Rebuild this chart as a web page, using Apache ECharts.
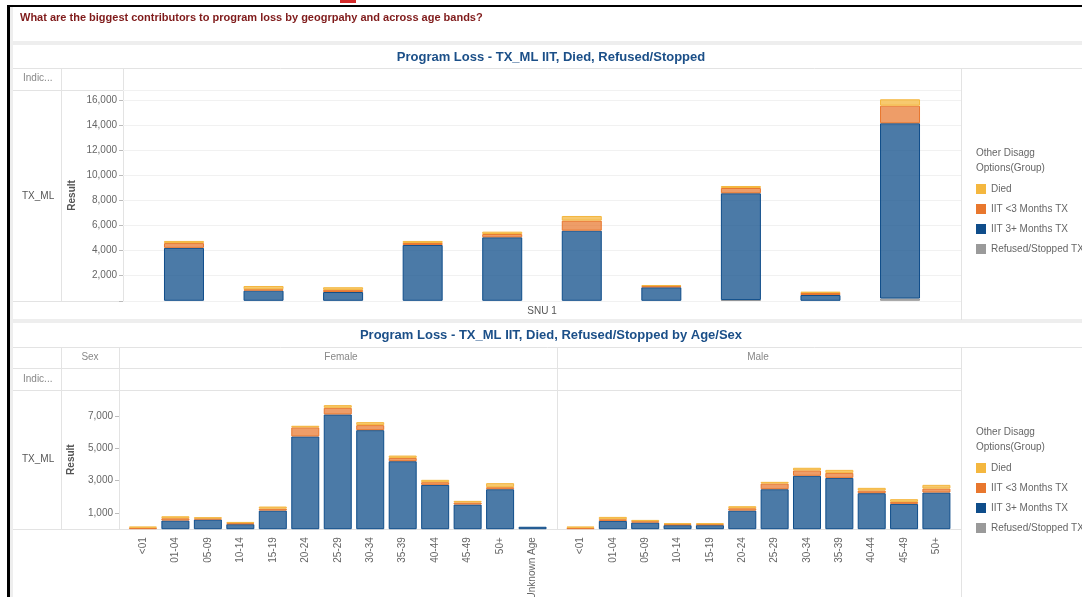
<!DOCTYPE html>
<html>
<head>
<meta charset="utf-8">
<script src="https://cdn.jsdelivr.net/npm/echarts@6/dist/echarts.min.js"></script>
<style>
  html, body { margin: 0; padding: 0; background: #fff; }
  #chart { width: 1082px; height: 597px; }
</style>
</head>
<body>
<div id="chart"></div>
<script>
// stack order, bottom to top
const seriesNames = ['Refused/Stopped TX', 'IIT 3+ Months TX', 'IIT <3 Months TX', 'Died']
const legendOrder = ['Died', 'IIT <3 Months TX', 'IIT 3+ Months TX', 'Refused/Stopped TX']

// top chart: one bar per SNU (labels hidden in the source)
const snuBars = ['1', '2', '3', '4', '5', '6', '7', '8', '9', '10']
const snuRefused = [0, 0, 0, 0, 0, 0, 0, 60, 0, 180]
const snuIit3Plus = [4220, 810, 700, 4450, 5060, 5590, 1075, 8510, 460, 13970]
const snuIitUnder3 = [380, 110, 170, 160, 260, 800, 95, 420, 160, 1400]
const snuDied = [170, 260, 210, 160, 190, 370, 90, 160, 110, 510]

// bottom chart: age bands by sex
const femaleAges = ['<01', '01-04', '05-09', '10-14', '15-19', '20-24', '25-29', '30-34', '35-39', '40-44', '45-49', '50+', 'Unknown Age']
const femaleRefused = [0, 0, 0, 0, 0, 0, 0, 0, 0, 0, 0, 0, 0]
const femaleIit3Plus = [0, 535, 600, 310, 1150, 5730, 7090, 6120, 4200, 2740, 1525, 2470, 150]
const femaleIitUnder3 = [90, 140, 60, 60, 120, 560, 410, 310, 205, 165, 125, 125, 0]
const femaleDied = [75, 125, 80, 80, 130, 100, 165, 185, 145, 145, 100, 250, 0]

const maleAges = ['<01', '01-04', '05-09', '10-14', '15-19', '20-24', '25-29', '30-34', '35-39', '40-44', '45-49', '50+']
const maleRefused = [0, 0, 0, 0, 0, 0, 0, 0, 0, 0, 0, 0]
const maleIit3Plus = [0, 515, 410, 250, 250, 1150, 2470, 3300, 3170, 2225, 1565, 2265]
const maleIitUnder3 = [90, 100, 80, 60, 60, 145, 350, 330, 310, 165, 125, 245]
const maleDied = [75, 145, 85, 60, 60, 125, 105, 165, 185, 165, 165, 230]

const ageTicks = [1000, 3000, 5000, 7000]

// colours
const solid = ['#9a9a9a', '#0f4d8a', '#e8772e', '#f4b73f']
const fill = ['rgba(154,154,154,0.75)', 'rgba(15,77,138,0.75)', 'rgba(232,119,46,0.72)', 'rgba(244,183,63,0.75)']
const font = '"Liberation Sans", Arial, sans-serif'
const frameColor = '#e3e3e3'

const chart = echarts.init(document.getElementById('chart'))

const makeSeries = (stack, axisIndex, cols, barWidth) =>
  cols.map((vals, i) => ({
    name: seriesNames[i],
    type: 'bar',
    stack,
    xAxisIndex: axisIndex,
    yAxisIndex: axisIndex,
    barWidth,
    data: vals.map(v => v || '-'),
    itemStyle: { color: fill[i], borderColor: solid[i], borderWidth: 1 }
  }))

const legendData = legendOrder.map(n => ({
  name: n,
  itemStyle: { color: solid[seriesNames.indexOf(n)], borderWidth: 0 }
}))

const makeLegend = top => ({
  data: legendData,
  orient: 'vertical',
  left: 976,
  top,
  padding: 0,
  itemWidth: 10,
  itemHeight: 10,
  itemGap: 10,
  icon: 'rect',
  selectedMode: false,
  textStyle: { fontFamily: font, fontSize: 10, color: '#666', lineHeight: 10 }
})

// table frame of the dashboard
const hLine = (x1, x2, y) => ({ type: 'line', silent: true, shape: { x1, y1: y + 0.5, x2, y2: y + 0.5 }, style: { stroke: frameColor, lineWidth: 1 } })
const vLine = (x, y1, y2) => ({ type: 'line', silent: true, shape: { x1: x + 0.5, y1, x2: x + 0.5, y2 }, style: { stroke: frameColor, lineWidth: 1 } })
const txt = (text, x, y, opts = {}) => ({
  type: 'text', silent: true, x, y,
  style: Object.assign({
    text, fill: '#888', font: `10px ${font}`,
    align: 'left', textAlign: 'left', verticalAlign: 'middle', textVerticalAlign: 'middle'
  }, opts)
})

const graphics = [
  { type: 'rect', silent: true, shape: { x: 10, y: 7, width: 3, height: 590 }, style: { fill: '#eeeeee' } },
  { type: 'rect', silent: true, shape: { x: 7, y: 5, width: 3, height: 592 }, style: { fill: '#000' } },
  { type: 'rect', silent: true, shape: { x: 7, y: 5, width: 1075, height: 2 }, style: { fill: '#000' } },
  { type: 'rect', silent: true, shape: { x: 340, y: 0, width: 16, height: 3 }, style: { fill: '#d42a2a' } },
  { type: 'rect', silent: true, shape: { x: 13, y: 41, width: 1069, height: 4 }, style: { fill: '#eeeeee' } },
  { type: 'rect', silent: true, shape: { x: 13, y: 319, width: 1069, height: 4 }, style: { fill: '#eeeeee' } },
  // top panel
  hLine(13, 1082, 68), hLine(13, 961, 90), hLine(13, 961, 301),
  vLine(61, 68, 301), vLine(123, 68, 301), vLine(961, 68, 320),
  // bottom panel
  hLine(13, 1082, 347), hLine(13, 961, 368), hLine(13, 961, 390), hLine(13, 961, 529),
  vLine(61, 347, 529), vLine(119, 347, 529), vLine(557, 347, 529), vLine(961, 347, 597),
  txt('What are the biggest contributors to program loss by geogrpahy and across age bands?', 20, 18,
    { fill: '#7f1a1a', font: `bold 11px ${font}` }),
  txt('Program Loss - TX_ML IIT, Died, Refused/Stopped', 551, 57,
    { fill: '#1b4f88', font: `bold 13px ${font}`, align: 'center', textAlign: 'center' }),
  txt('Program Loss - TX_ML IIT, Died, Refused/Stopped by Age/Sex', 551, 335,
    { fill: '#1b4f88', font: `bold 13px ${font}`, align: 'center', textAlign: 'center' }),
  txt('Indic...', 23, 78),
  txt('TX_ML', 22, 196, { fill: '#555' }),
  txt('Sex', 90, 357, { align: 'center', textAlign: 'center' }),
  txt('Female', 341, 357, { align: 'center', textAlign: 'center' }),
  txt('Male', 758, 357, { align: 'center', textAlign: 'center' }),
  txt('Indic...', 23, 379),
  txt('TX_ML', 22, 459, { fill: '#555' }),
  txt('Other Disagg', 976, 153, { fill: '#666' }),
  txt('Options(Group)', 976, 168, { fill: '#666' }),
  txt('Other Disagg', 976, 432, { fill: '#666' }),
  txt('Options(Group)', 976, 447, { fill: '#666' })
]

const hiddenAxis = { show: false }
const labelStyle = { fontFamily: font, fontSize: 10, color: '#666' }
const nameStyle = { fontFamily: font, fontSize: 10, fontWeight: 'bold', color: '#555' }

const option = {
  animation: false,
  textStyle: { fontFamily: font },
  graphic: { elements: graphics },
  legend: [makeLegend(184), makeLegend(463)],
  grid: [
    { left: 144.2, right: 142.2, top: 90, bottom: 296.2, outerBoundsMode: 'none' },   // SNU bars
    { left: 126.7, right: 533.2, top: 390, bottom: 67.8, outerBoundsMode: 'none' },   // female
    { left: 564.3, right: 129.4, top: 390, bottom: 67.8, outerBoundsMode: 'none' },   // male
    { left: 123, right: 121, top: 90, bottom: 296.2, outerBoundsMode: 'none' }        // SNU value axis + gridlines
  ],
  xAxis: [
    {
      gridIndex: 0, type: 'category', data: snuBars,
      axisLine: { show: false }, axisTick: { show: false }, axisLabel: { show: false },
      name: 'SNU 1', nameLocation: 'middle', nameGap: 5,
      nameTextStyle: { fontFamily: font, fontSize: 10, color: '#555', verticalAlign: 'top' }
    },
    {
      gridIndex: 1, type: 'category', data: femaleAges,
      axisLine: { show: false }, axisTick: { show: false },
      axisLabel: Object.assign({ rotate: 90, margin: 8, interval: 0 }, labelStyle)
    },
    {
      gridIndex: 2, type: 'category', data: maleAges,
      axisLine: { show: false }, axisTick: { show: false },
      axisLabel: Object.assign({ rotate: 90, margin: 8, interval: 0 }, labelStyle)
    },
    Object.assign({ gridIndex: 3, type: 'value' }, hiddenAxis)
  ],
  yAxis: [
    Object.assign({ gridIndex: 0, type: 'value', min: 0, max: 16800 }, hiddenAxis),
    {
      gridIndex: 1, type: 'value', min: 0, max: 8600, offset: 7.7,
      axisLine: { show: false },
      axisTick: { show: true, length: 4, customValues: ageTicks, lineStyle: { color: '#bbb' } },
      axisLabel: Object.assign({ margin: 6, customValues: ageTicks, formatter: v => v.toLocaleString('en-US') }, labelStyle),
      splitLine: { show: false },
      name: 'Result', nameLocation: 'middle', nameRotate: 90, nameGap: 43, nameMoveOverlap: false, nameTextStyle: nameStyle
    },
    Object.assign({ gridIndex: 2, type: 'value', min: 0, max: 8600 }, hiddenAxis),
    {
      gridIndex: 3, type: 'value', min: 0, max: 16800, interval: 2000,
      axisLine: { show: false },
      axisTick: { show: true, length: 4, lineStyle: { color: '#bbb' } },
      axisLabel: Object.assign({ margin: 6, showMaxLabel: false, formatter: v => (v === 0 || v % 2000 ? '' : v.toLocaleString('en-US')) }, labelStyle),
      splitLine: { lineStyle: { color: '#f1f1f1' } },
      name: 'Result', nameLocation: 'middle', nameRotate: 90, nameGap: 46, nameMoveOverlap: false, nameTextStyle: nameStyle
    }
  ],
  series: [
    ...makeSeries('snu', 0, [snuRefused, snuIit3Plus, snuIitUnder3, snuDied], 40),
    ...makeSeries('female', 1, [femaleRefused, femaleIit3Plus, femaleIitUnder3, femaleDied], 28),
    ...makeSeries('male', 2, [maleRefused, maleIit3Plus, maleIitUnder3, maleDied], 28)
  ]
}

chart.setOption(option)
</script>
</body>
</html>
